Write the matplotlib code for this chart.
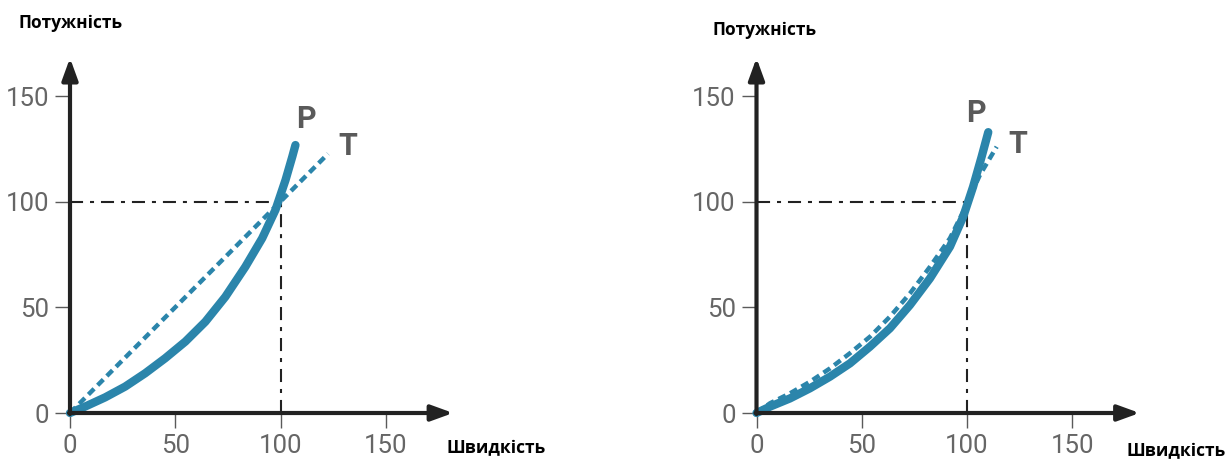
import matplotlib.pyplot as plt

plt.rcParams['lines.scale_dashes'] = False

# power curve P and torque line T, left panel
speed_p_left = [0, 7.1, 16.7, 26.2, 35.7, 45.2, 54.8, 64.3, 73.8, 83.3, 91.3, 97.6, 102.4, 105.6, 107.1]
power_p_left = [0, 3.0, 7.4, 12.5, 18.8, 25.9, 33.8, 43.2, 55.0, 69.2, 82.7, 96.1, 110.3, 121.3, 126.8]
speed_t_left = [0, 122.6]
power_t_left = [0, 122.7]

# right panel
speed_p_right = [0, 6.4, 15.9, 25.4, 34.9, 44.4, 53.9, 63.4, 72.9, 82.4, 91.9, 98.2, 102.9, 106.9, 110.1]
power_p_right = [0, 3.0, 6.9, 11.7, 17.2, 23.5, 31.4, 40.1, 51.1, 63.7, 78.7, 92.9, 107.1, 121.1, 132.9]
speed_t_right = [0, 6.4, 15.9, 25.4, 34.9, 44.4, 53.9, 63.4, 72.9, 82.4, 91.9, 98.2, 106.1, 114.1]
power_t_right = [0, 4.6, 9.3, 14.8, 21.1, 28.3, 36.1, 45.6, 56.6, 69.2, 82.7, 95.3, 112.6, 126.0]

ticks = [0, 50, 100, 150]
BLUE = '#2b85ab'
GREY = '#5a5a5a'
W, H = 1230, 461
SX, SY = 2.105, 2.113  # pixels per data unit


def draw_panel(ax, px, py, tx, ty, p_pos, t_pos):
    ax.set_xlim(0, 185)
    ax.set_ylim(0, 170)
    for s in ax.spines.values():
        s.set_visible(False)
    ax.set_xticks(ticks)
    ax.set_yticks(ticks)
    ax.tick_params(direction='out', length=11, width=1, color=GREY,
                   labelcolor='#666666', labelsize=18.5, pad=4)
    for lab in ax.get_xticklabels() + ax.get_yticklabels():
        lab.set_family('Roboto')

    arrow = dict(arrowstyle='-|>,head_length=0.55,head_width=0.2',
                 lw=3, color='#222222', mutation_scale=24, shrinkA=0, shrinkB=0)
    ax.annotate('', xy=(182, 0), xytext=(-0.5, 0), arrowprops=arrow, annotation_clip=False)
    ax.annotate('', xy=(0, 168), xytext=(0, -0.5), arrowprops=arrow, annotation_clip=False)

    ax.plot([0, 100], [100, 100], color='#222222', lw=1.5,
            linestyle=(0, (9.4, 5, 2.9, 5)), clip_on=False)
    ax.plot([100, 100], [0, 100], color='#222222', lw=1.5,
            linestyle=(0, (9.4, 5, 2.9, 5)), clip_on=False)

    ax.plot(tx, ty, color=BLUE, lw=3.2, linestyle=(0, (5.8, 3.6)), clip_on=False)
    ax.plot(px, py, color=BLUE, lw=6, solid_capstyle='round',
            solid_joinstyle='round', clip_on=False)

    ax.text(*p_pos, 'P', color=GREY, fontsize=22, fontweight='bold',
            family='Roboto', ha='center', va='center')
    ax.text(*t_pos, 'T', color=GREY, fontsize=22, fontweight='bold',
            family='Roboto', ha='center', va='center')


fig = plt.figure(figsize=(12.3, 4.61), dpi=100)

ax1 = fig.add_axes([70 / W, (H - 413) / H, 185 * SX / W, 170 * SY / H])
draw_panel(ax1, speed_p_left, power_p_left, speed_t_left, power_t_left,
           (112.1, 139.1), (132.1, 126.4))

ax2 = fig.add_axes([756.5 / W, (H - 413) / H, 185 * SX / W, 170 * SY / H])
draw_panel(ax2, speed_p_right, power_p_right, speed_t_right, power_t_right,
           (104.3, 142), (124.2, 127.3))

title_kw = dict(fontsize=12.5, fontweight='bold', family='Open Sans',
                ha='center', va='center', color='black')
fig.text(71 / W, 1 - 23 / H, 'Потужність', **title_kw)
fig.text(765 / W, 1 - 30 / H, 'Потужність', **title_kw)
fig.text(496 / W, 1 - 448 / H, 'Швидкість', **title_kw)
fig.text(1176 / W, 1 - 451 / H, 'Швидкість', **title_kw)

fig.savefig('out.png', dpi=100, facecolor='white')
